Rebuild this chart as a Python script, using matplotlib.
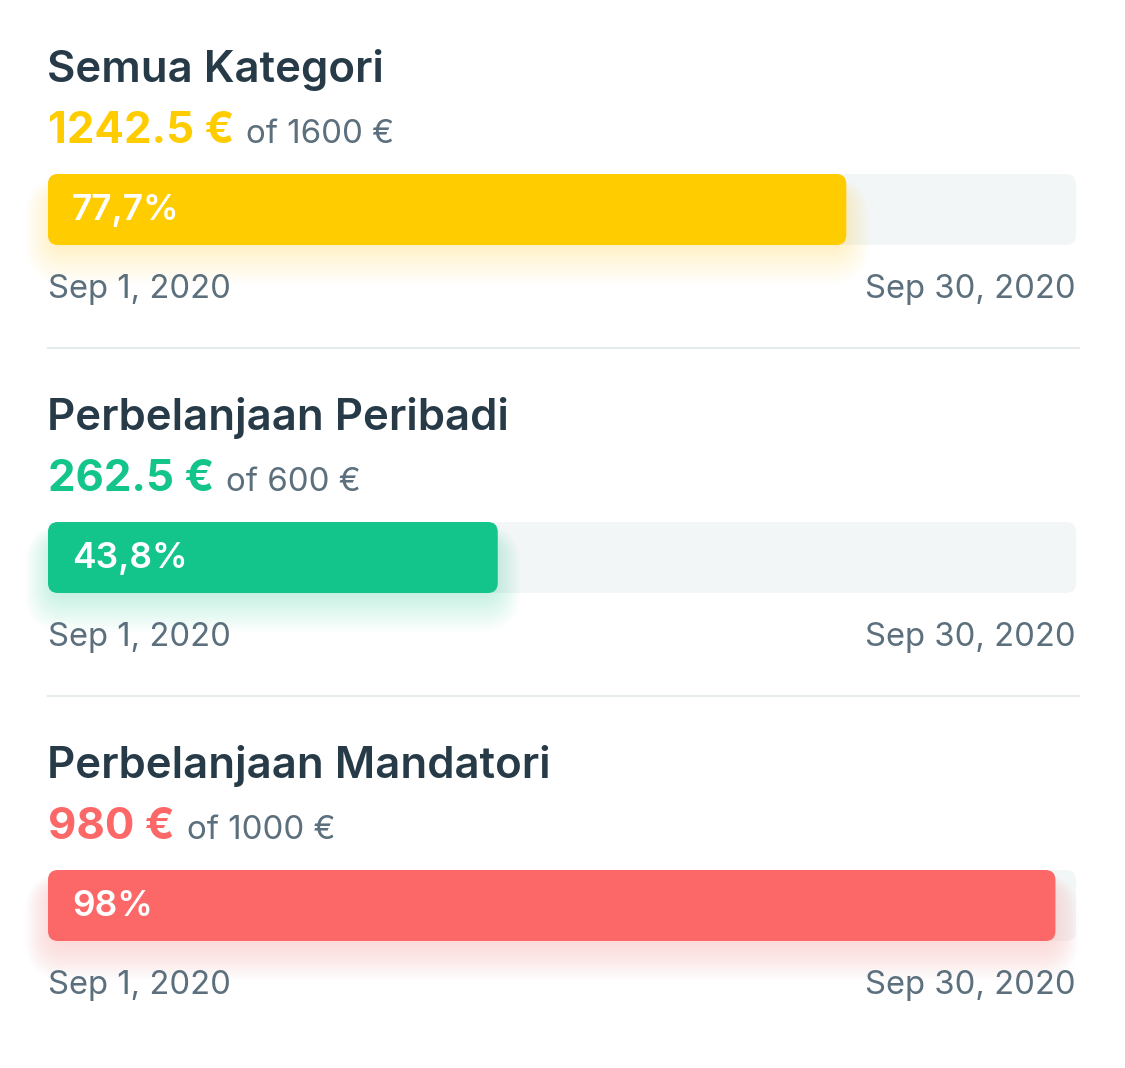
import matplotlib.pyplot as plt
from matplotlib.patches import FancyBboxPatch

categories = ['Semua Kategori', 'Perbelanjaan Peribadi', 'Perbelanjaan Mandatori']
spent = [1242.5, 262.5, 980]
budget = [1600, 600, 1000]
bar_colors = ['#FFCC00', '#13C48B', '#FC6868']
start_label = 'Sep 1, 2020'
end_label = 'Sep 30, 2020'

TITLE_C = '#263A47'
GRAY_C = '#5B6F7D'
TRACK_C = '#F3F6F7'
LINE_C = '#E6EAEC'

plt.rcParams['font.family'] = ['Inter', 'DejaVu Sans']

fig = plt.figure(figsize=(11.25, 10.68), dpi=100)
ax = fig.add_axes([0, 0, 1, 1])
ax.set_xlim(0, 1125)
ax.set_ylim(1068, 0)
ax.axis('off')
renderer = fig.canvas.get_renderer()


def fmt_money(v):
    return ('%g' % v) + ' €'


def fmt_pct(frac):
    p = round(frac * 100, 1)
    if p == int(p):
        return '%d%%' % p
    return ('%.1f%%' % p).replace('.', ',')


left, right = 48, 1076
step = 348
for i, name in enumerate(categories):
    y0 = i * step
    frac = spent[i] / budget[i]
    col = bar_colors[i]

    ax.text(left - 1, y0 + 82, name, fontsize=31.5, fontweight='semibold',
            color=TITLE_C, va='baseline', ha='left')

    t1 = ax.text(left, y0 + 143, fmt_money(spent[i]), fontsize=31.5,
                 fontweight='bold', color=col, va='baseline', ha='left')
    bb = t1.get_window_extent(renderer)
    x_after = ax.transData.inverted().transform((bb.x1, 0))[0]
    ax.text(x_after + 12, y0 + 143, 'of ' + fmt_money(budget[i]), fontsize=23.8,
            color=GRAY_C, va='baseline', ha='left')

    bar_top, bar_h = y0 + 174, 71
    track = FancyBboxPatch((left, bar_top), right - left, bar_h,
                           boxstyle='round,pad=0,rounding_size=10',
                           fc=TRACK_C, ec='none', zorder=1)
    ax.add_patch(track)

    w = (right - left) * frac
    # soft glow, mostly below the filled bar
    for k in range(16):
        g = 1 + k * 2.0
        glow = FancyBboxPatch((left - g + 8, bar_top + 22 - g + k * 0.8),
                              w + 2 * g - 16, bar_h + 2 * g - 26,
                              boxstyle='round,pad=0,rounding_size=%g' % (10 + g),
                              fc=col, ec='none', alpha=0.014, zorder=2)
        ax.add_patch(glow)

    bar = FancyBboxPatch((left, bar_top), w, bar_h,
                         boxstyle='round,pad=0,rounding_size=10',
                         fc=col, ec='none', zorder=3)
    ax.add_patch(bar)
    ax.text(left + 24, bar_top + bar_h / 2 + 1, fmt_pct(frac), fontsize=25.5,
            fontweight='semibold', color='white', va='center', ha='left',
            zorder=4)

    ax.text(left, y0 + 298, start_label, fontsize=23.6, color=GRAY_C,
            va='baseline', ha='left')
    ax.text(right, y0 + 298, end_label, fontsize=23.6, color=GRAY_C,
            va='baseline', ha='right')

    if i < len(categories) - 1:
        ax.plot([left, 1079], [y0 + 348, y0 + 348], color=LINE_C, lw=1.5)

fig.savefig('out.png', dpi=100, facecolor='white')
